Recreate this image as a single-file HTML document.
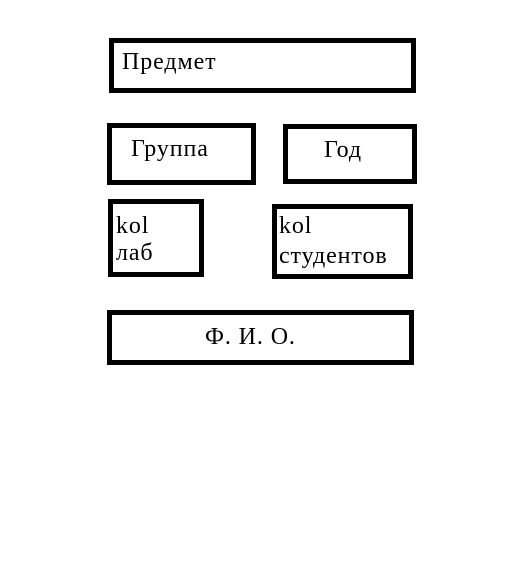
<!DOCTYPE html>
<html><head><meta charset="utf-8"><style>
body{margin:0;width:524px;height:570px;background:#fff;position:relative;overflow:hidden}
.b{position:absolute;border:5px solid #000;box-sizing:border-box}
.t{position:absolute;font-family:"Liberation Serif",serif;font-size:24px;line-height:24px;letter-spacing:0.9px;color:#000;white-space:nowrap}
</style></head><body>
<div class="b" style="left:109px;top:38px;width:307px;height:55px"></div>
<div class="b" style="left:107px;top:123px;width:149px;height:62px"></div>
<div class="b" style="left:283px;top:124px;width:134px;height:60px"></div>
<div class="b" style="left:108px;top:199px;width:96px;height:78px"></div>
<div class="b" style="left:272px;top:204px;width:141px;height:75px"></div>
<div class="b" style="left:107px;top:310px;width:307px;height:55px"></div>
<div class="t" style="left:122px;top:50px">Предмет</div>
<div class="t" style="left:131px;top:137px">Группа</div>
<div class="t" style="left:324px;top:138px">Год</div>
<div class="t" style="left:116px;top:214px">kol</div>
<div class="t" style="left:116px;top:241px">лаб</div>
<div class="t" style="left:279px;top:214px">kol</div>
<div class="t" style="left:279px;top:244px">студентов</div>
<div class="t" style="left:205px;top:325px">Ф. И. О.</div>
</body></html>
